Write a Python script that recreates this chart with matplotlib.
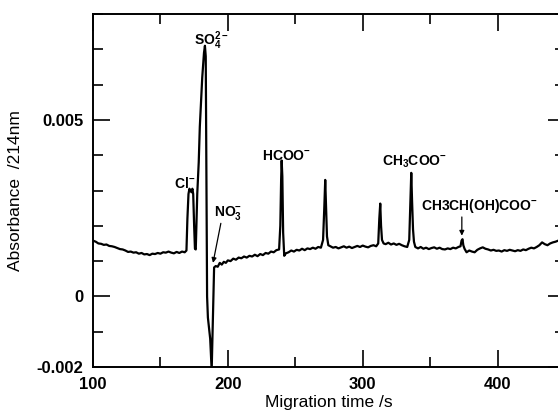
import matplotlib
matplotlib.use('Agg')
import matplotlib.pyplot as plt
import numpy as np

plt.rcParams['font.family'] = ['Liberation Sans', 'DejaVu Sans']
plt.rcParams['mathtext.fontset'] = 'custom'
plt.rcParams['mathtext.rm'] = 'Liberation Sans:bold'
plt.rcParams['mathtext.bf'] = 'Liberation Sans:bold'
plt.rcParams['mathtext.default'] = 'bf'

# electropherogram trace (absorbance in units of 1e-3)
time_s = [
    100, 102, 104, 106, 108, 110, 112, 114, 116, 118, 120, 122, 124, 126, 128,
    130, 132, 134, 136, 138, 140, 142, 144, 146, 148, 150, 152, 154, 156, 158,
    160, 162, 164, 166, 168, 169.3,
    # Cl-
    170.0, 170.8, 171.5, 172.3, 173.0, 173.7, 174.3, 175.0, 175.6, 176.2,
    # SO4 2- and the negative dip
    177.3, 178.4, 179.2, 181.0, 182.3, 183.0, 183.6, 184.2, 184.6, 185.2,
    186.9, 188.0, 189.8,
    191, 192.5, 194, 195.5, 197, 198.5, 200, 202, 204, 206, 208, 210, 212,
    214, 216, 218, 220, 222, 224, 226, 228, 230, 232, 234, 236, 238,
    # HCOO-
    238.9, 239.5, 239.9, 240.4, 241.0, 241.8,
    243, 245, 247, 249, 251, 253, 255, 257, 259, 261, 263, 265, 267, 269,
    270.6, 271.5, 272.2, 272.8, 273.5, 274.5,
    276, 278, 280, 282, 284, 286, 288, 290, 292, 294, 296, 298, 300, 302,
    304, 306, 308, 310, 311.5,
    312.3, 313.0, 313.6, 314.3, 315.5,
    317, 319, 321, 323, 325, 327, 329, 331, 333, 334.5,
    # CH3COO-
    335.3, 336.0, 336.6, 337.3, 338.0, 339,
    341, 343, 345, 347, 349, 351, 353, 355, 357, 359, 361, 363, 365, 367,
    369, 371, 372.5,
    # lactate
    373.3, 374.0, 374.6, 375.5,
    377, 379, 381, 383, 385, 387, 389, 391, 393, 395, 397, 399, 401, 403,
    405, 407, 409, 411, 413, 415, 417, 419, 421, 423, 425, 427, 429, 431,
    433, 435, 437, 439, 441, 443, 445, 448,
]
absorbance_milli = [
    1.58, 1.55, 1.50, 1.49, 1.46, 1.47, 1.43, 1.42, 1.40, 1.37, 1.34, 1.33,
    1.30, 1.26, 1.27, 1.24, 1.25, 1.21, 1.23, 1.19, 1.20, 1.17, 1.21, 1.20,
    1.23, 1.21, 1.25, 1.24, 1.27, 1.24, 1.22, 1.26, 1.23, 1.27, 1.25, 1.30,
    2.20, 2.90, 3.05, 3.00, 2.95, 3.05, 2.90, 2.00, 1.35, 1.33,
    2.90, 3.80, 4.80, 6.20, 6.90, 7.10, 6.80, 3.00, 0.00, -0.60,
    -1.20, -2.10, 0.82,
    0.86, 0.84, 0.95, 0.90, 0.98, 0.95, 1.02, 1.00, 1.07, 1.04, 1.10, 1.08,
    1.13, 1.10, 1.15, 1.13, 1.18, 1.14, 1.20, 1.17, 1.23, 1.21, 1.27, 1.25,
    1.31, 1.33,
    2.00, 3.30, 3.85, 3.40, 1.80, 1.15,
    1.22, 1.25, 1.30, 1.27, 1.32, 1.30, 1.35, 1.31, 1.36, 1.34, 1.38, 1.35,
    1.40, 1.38,
    1.60, 2.50, 3.30, 2.60, 1.70, 1.45,
    1.42, 1.38, 1.40, 1.36, 1.39, 1.42, 1.38, 1.41, 1.37, 1.40, 1.43, 1.40,
    1.44, 1.41, 1.39, 1.43, 1.45, 1.42, 1.50,
    2.20, 2.63, 2.00, 1.60, 1.50,
    1.48, 1.52, 1.47, 1.50, 1.46, 1.49, 1.45, 1.42, 1.40, 1.60,
    2.60, 3.50, 2.70, 1.90, 1.55, 1.40,
    1.36, 1.40, 1.35, 1.38, 1.34, 1.37, 1.39, 1.35, 1.38, 1.34, 1.33, 1.36,
    1.34, 1.38, 1.36, 1.40, 1.42,
    1.58, 1.62, 1.45, 1.35,
    1.25, 1.30, 1.27, 1.25, 1.32, 1.36, 1.39, 1.35, 1.33, 1.30, 1.32, 1.29,
    1.30, 1.27, 1.31, 1.29, 1.32, 1.30, 1.28, 1.31, 1.29, 1.33, 1.31, 1.35,
    1.38, 1.36, 1.40, 1.45, 1.53, 1.48, 1.45, 1.50, 1.53, 1.55, 1.58, 1.60,
]
absorbance = np.array(absorbance_milli) * 1e-3

peak_labels = [r'Cl$^{-}$', r'SO$_4^{2-}$', r'NO$_3^{-}$', r'HCOO$^{-}$',
               r'CH$_3$COO$^{-}$', r'CH3CH(OH)COO$^{-}$']
x_ticks = [100, 200, 300, 400]
y_ticks = [-0.002, 0, 0.005]
y_tick_labels = ['-0.002', '0', '0.005']

fig = plt.figure(figsize=(5.58, 4.12), dpi=100)
ax = fig.add_axes([93 / 558, 45 / 412, 472 / 558, 353 / 412])

ax.plot(time_s, absorbance, color='black', lw=1.6)

ax.set_xlim(100, 450)
ax.set_ylim(-0.002, 0.008)
ax.set_xticks(x_ticks)
ax.set_xticks([150, 250, 350, 450], minor=True)
ax.set_yticks(y_ticks)
ax.set_yticklabels(y_tick_labels)
ax.set_yticks(np.arange(-0.001, 0.0081, 0.001), minor=True)
ax.tick_params(which='both', direction='in', top=True, right=True, width=1.2)
ax.tick_params(which='major', length=12, labelsize=12, pad=7)
ax.tick_params(which='minor', length=7)
for lab in ax.get_xticklabels() + ax.get_yticklabels():
    lab.set_fontweight('bold')
for s in ax.spines.values():
    s.set_linewidth(1.4)

ax.set_xlabel('Migration time /s', fontsize=12.5, labelpad=2)
ax.set_ylabel('Absorbance  /214nm', fontsize=12.5, labelpad=10)

kw = dict(fontsize=10, fontweight='bold', ha='center', va='center')
ax.text(167.8, 0.0032, peak_labels[0], **kw)
ax.text(188.0, 0.00724, peak_labels[1], **kw)
ax.text(200.5, 0.00235, peak_labels[2], **kw)
ax.text(243.3, 0.00397, peak_labels[3], **kw)
ax.text(338.5, 0.0038, peak_labels[4], **kw)
ax.text(386.7, 0.00256, peak_labels[5], **kw)

arrow = dict(arrowstyle='-|>', color='black', lw=0.9, mutation_scale=7,
             shrinkA=0, shrinkB=0)
ax.annotate('', xy=(189.0, 0.00095), xytext=(194.8, 0.00207), arrowprops=arrow)
ax.annotate('', xy=(373.5, 0.00172), xytext=(373.5, 0.00225), arrowprops=arrow)

fig.savefig('out.png', dpi=100)
